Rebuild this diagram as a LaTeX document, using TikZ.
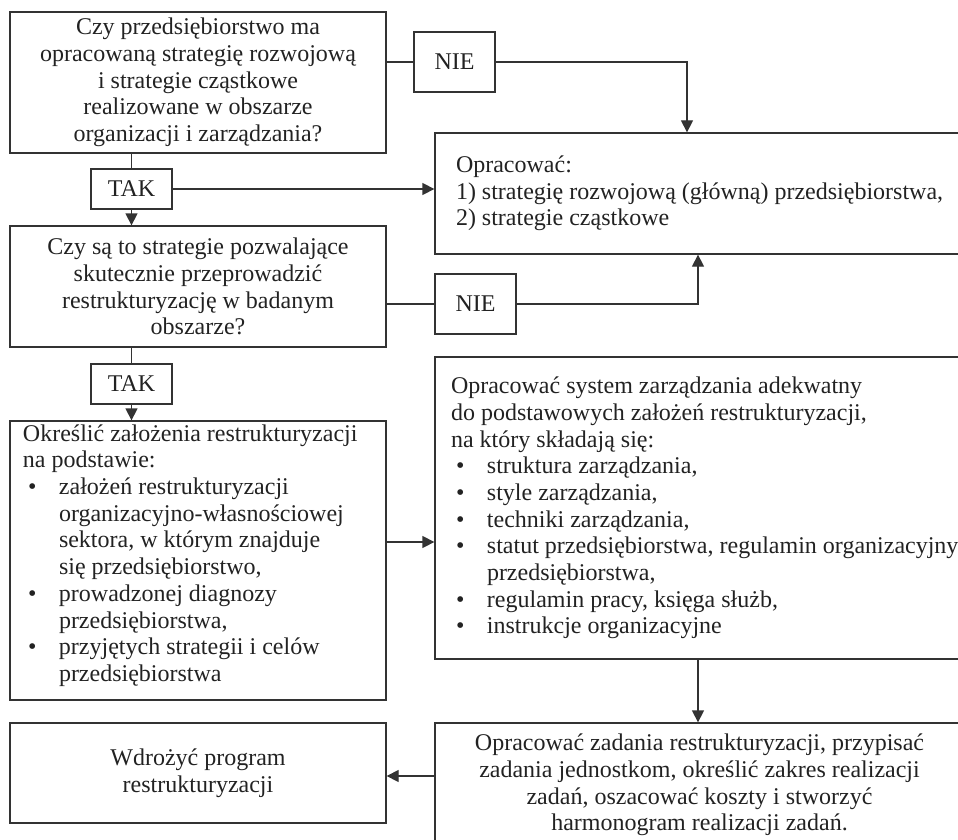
\documentclass[tikz,border=0pt]{standalone}
\usepackage{fontspec}
\setmainfont{Liberation Serif}
\usetikzlibrary{arrows.meta,calc}

% bullet with hanging indent for list lines, and continuation indent
\newcommand\bul{\makebox[36pt][l]{\hspace{5pt}\textbullet}}
\newcommand\cnt{\hspace*{36pt}}
% left-aligned block of lines inside a box of fixed width #1, indented by #2
\newcommand\leftblock[3]{\makebox[#1][l]{\hspace*{#2}\begin{minipage}{560pt}#3\end{minipage}}}

\definecolor{ink}{HTML}{222222}
\definecolor{rule}{HTML}{333333}

\begin{document}
\begin{tikzpicture}[x=1pt,y=-1pt,
  font=\fontsize{24}{26.7}\selectfont,
  box/.style={draw=rule, line width=1.3pt, inner sep=0pt, align=center, text=ink},
  qbox/.style={box, minimum width=376pt},
  tagbox/.style={box, minimum width=81pt},
  wbox/.style={box, minimum width=529pt},
  link/.style={draw=rule, line width=1.3pt},
  arr/.style={link, -{Triangle[length=12pt,width=12pt]}}]

\useasboundingbox (0,0) rectangle (958,840);

% left column: questions and decisions
\node[qbox, minimum height=141pt] (q1) at (198,82.5)
  {Czy przedsiębiorstwo ma\\opracowaną strategię rozwojową\\i strategie cząstkowe\\realizowane w obszarze\\organizacji i zarządzania?};
\node[tagbox, minimum height=40pt] (tak1) at (131.5,189) {TAK};
\node[qbox, minimum height=121pt] (q2) at (198,286.5)
  {Czy są to strategie pozwalające\\skutecznie przeprowadzić\\restrukturyzację w badanym\\obszarze?};
\node[tagbox, minimum height=40pt] (tak2) at (131.5,384) {TAK};
\node[qbox, minimum height=279pt, align=left] (q3) at (198,560.5)
  {\leftblock{376pt}{13pt}{%
    Określić założenia restrukturyzacji\\
    na podstawie:\\
    \bul założeń restrukturyzacji\\
    \cnt organizacyjno-własnościowej\\
    \cnt sektora, w którym znajduje\\
    \cnt się przedsiębiorstwo,\\
    \bul prowadzonej diagnozy\\
    \cnt przedsiębiorstwa,\\
    \bul przyjętych strategii i celów\\
    \cnt przedsiębiorstwa\par\vspace*{10pt}}};
\node[qbox, minimum height=100pt] (wdr) at (198,773)
  {Wdrożyć program\\restrukturyzacji};

% NO branches
\node[tagbox, minimum height=60pt] (nie1) at (454.5,62) {NIE};
\node[tagbox, minimum height=60pt] (nie2) at (475.5,304) {NIE};

% right column: actions
\node[wbox, minimum height=121pt, align=left] (opr) at (699.5,193.5)
  {\leftblock{529pt}{21pt}{%
    Opracować:\\
    1) strategię rozwojową (główną) przedsiębiorstwa,\\
    2) strategie cząstkowe}};
\node[wbox, minimum height=302pt, align=left] (sys) at (699.5,508)
  {\leftblock{529pt}{16pt}{%
    Opracować system zarządzania adekwatny\\
    do podstawowych założeń restrukturyzacji,\\
    na który składają się:\\
    \bul struktura zarządzania,\\
    \bul style zarządzania,\\
    \bul techniki zarządzania,\\
    \bul statut przedsiębiorstwa, regulamin organizacyjny\\
    \cnt przedsiębiorstwa,\\
    \bul regulamin pracy, księga służb,\\
    \bul instrukcje organizacyjne}};
\node[wbox, minimum height=124pt] (task) at (699.5,785)
  {Opracować zadania restrukturyzacji, przypisać\\zadania jednostkom, określić zakres realizacji\\zadań, oszacować koszty i stworzyć\\harmonogram realizacji zadań.};

% routing points for the connectors
\coordinate (k1) at (687,62);
\coordinate (k2) at (698,304);
\coordinate (j3) at (386,542);
\coordinate (k3) at (698,700);
\coordinate (j4) at (435,776);

% connectors
\draw[link] (q1.east |- nie1.west) -- (nie1.west);
\draw[arr] (nie1.east) -| (k1 |- opr.north);
\draw[link] (q1.south -| tak1.north) -- (tak1.north);
\draw[arr] (tak1.south) -- (q2.north -| tak1.south);
\draw[arr] (tak1.east) -- (opr.west |- tak1.east);
\draw[link] (q2.east |- nie2.west) -- (nie2.west);
\draw[arr] (nie2.east) -| (k2 |- opr.south);
\draw[link] (q2.south -| tak2.north) -- (tak2.north);
\draw[arr] (tak2.south) -- (q3.north -| tak2.south);
\draw[arr] (q3.east |- j3) -- (sys.west |- j3);
\draw[arr] (k3 |- sys.south) -- (k3 |- task.north);
\draw[arr] (task.west |- j4) -- (wdr.east |- j4);

\end{tikzpicture}
\end{document}
